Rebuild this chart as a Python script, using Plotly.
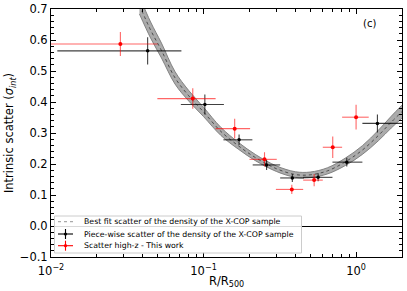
import plotly.graph_objects as go
import numpy as np

# ---- data ----
# best-fit curve
fit_x = [0.038, 0.045, 0.053, 0.065, 0.08, 0.1, 0.13, 0.17, 0.22, 0.3, 0.4, 0.5, 0.65, 0.85, 1.1, 1.4, 1.7, 2.0]
fit_y = [0.712, 0.632, 0.566, 0.478, 0.420, 0.368, 0.305, 0.258, 0.220, 0.185, 0.166, 0.165, 0.178, 0.207, 0.245, 0.292, 0.335, 0.369]
fit_err = [0.028, 0.026, 0.024, 0.020, 0.017, 0.015, 0.013, 0.011, 0.010, 0.009, 0.009, 0.009, 0.010, 0.012, 0.014, 0.017, 0.019, 0.021]

# piece-wise scatter X-COP (black)
xcop_x = [0.043, 0.102, 0.171, 0.259, 0.382, 0.564, 0.869, 1.38]
xcop_xlo = [0.011, 0.071, 0.135, 0.210, 0.318, 0.450, 0.700, 1.10]
xcop_xhi = [0.0716, 0.136, 0.209, 0.318, 0.456, 0.700, 1.10, 2.10]
xcop_y = [0.565, 0.392, 0.278, 0.197, 0.155, 0.157, 0.206, 0.331]
xcop_yerr = [0.044, 0.032, 0.017, 0.016, 0.013, 0.013, 0.014, 0.029]

# high-z scatter (red)
hz_x = [0.0285, 0.085, 0.160, 0.251, 0.379, 0.531, 0.703, 1.0]
hz_xlo = [0.0100, 0.0498, 0.120, 0.200, 0.298, 0.450, 0.605, 0.81]
hz_xhi = [0.050, 0.120, 0.202, 0.302, 0.450, 0.605, 0.81, 1.21]
hz_y = [0.587, 0.411, 0.314, 0.215, 0.118, 0.148, 0.254, 0.351]
hz_yerr = [0.039, 0.033, 0.032, 0.023, 0.015, 0.020, 0.035, 0.040]

ref_x = 1.0  # vertical reference at R500

legend_labels = ["Best fit scatter of the density of the X-COP sample",
                 "Piece-wise scatter of the density of the X-COP sample",
                 "Scatter high-z - This work"]

xtick_vals = [0.01, 0.1, 1]
xtick_text = ["10<sup>−2</sup>", "10<sup>−1</sup>", "10<sup>0</sup>"]
ytick_vals = [-0.1, 0.0, 0.1, 0.2, 0.3, 0.4, 0.5, 0.6, 0.7]
ytick_text = ["−0.1", "0.0", "0.1", "0.2", "0.3", "0.4", "0.5", "0.6", "0.7"]

FONT = "DejaVu Sans"
W, H = 407, 291
ML, MR, MT, MB = 51, 5, 9, 34
PW, PH = W - ML - MR, H - MT - MB


def px(xp):
    return (xp - ML) / PW


def py(yp):
    return (H - MB - yp) / PH


fy = np.array(fit_y)
fe = np.array(fit_err)

fig = go.Figure()

# band
fig.add_trace(go.Scatter(x=fit_x, y=fy + fe, mode="lines", line=dict(color="#7a7a7a", width=0.9, shape="spline"),
                         showlegend=False, hoverinfo="skip"))
fig.add_trace(go.Scatter(x=fit_x, y=fy - fe, mode="lines", line=dict(color="#7a7a7a", width=0.9, shape="spline"),
                         fill="tonexty", fillcolor="#ababab", showlegend=False, hoverinfo="skip"))
fig.add_trace(go.Scatter(x=fit_x, y=fit_y, mode="lines", line=dict(color="#333333", width=0.8, dash="dot", shape="spline"),
                         showlegend=False))

# data
fig.add_trace(go.Scatter(
    x=xcop_x, y=xcop_y, mode="markers",
    marker=dict(color="black", size=3.5),
    error_x=dict(type="data", symmetric=False,
                 array=[h - x for h, x in zip(xcop_xhi, xcop_x)],
                 arrayminus=[x - l for l, x in zip(xcop_xlo, xcop_x)],
                 color="rgba(0,0,0,0.75)", thickness=1.1, width=0),
    error_y=dict(type="data", array=xcop_yerr, color="rgba(0,0,0,0.75)", thickness=1.1, width=0),
    showlegend=False))

fig.add_trace(go.Scatter(
    x=hz_x, y=hz_y, mode="markers",
    marker=dict(color="red", size=4),
    error_x=dict(type="data", symmetric=False,
                 array=[h - x for h, x in zip(hz_xhi, hz_x)],
                 arrayminus=[x - l for l, x in zip(hz_xlo, hz_x)],
                 color="rgba(255,0,0,0.6)", thickness=1.1, width=0),
    error_y=dict(type="data", array=hz_yerr, color="rgba(255,0,0,0.6)", thickness=1.1, width=0),
    showlegend=False))

# reference line at R500
fig.add_shape(type="line", xref="x", yref="paper", x0=np.log10(ref_x), x1=np.log10(ref_x), y0=0, y1=1,
              line=dict(color="black", width=0.8, dash="dash"), layer="above")

# ---- manual legend (matplotlib-like compact box) ----
fig.add_shape(type="rect", xref="paper", yref="paper", x0=px(54.5), x1=px(301.5), y0=py(253), y1=py(216),
              fillcolor="rgba(255,255,255,0.85)", line=dict(color="#cccccc", width=1), layer="above")
rows = [221.7, 234.0, 245.7]
sx0, sx1 = 58, 73
sxc = (sx0 + sx1) / 2
# dotted line symbol
fig.add_shape(type="line", xref="paper", yref="paper", x0=px(sx0), x1=px(sx1 + 3), y0=py(rows[0]), y1=py(rows[0]),
              line=dict(color="#aaaaaa", width=1.2, dash="dot"), layer="above")
for r, col in [(rows[1], "black"), (rows[2], "red")]:
    fig.add_shape(type="line", xref="paper", yref="paper", x0=px(sx0), x1=px(sx1), y0=py(r), y1=py(r),
                  line=dict(color=col, width=1.1), layer="above")
    fig.add_shape(type="line", xref="paper", yref="paper", x0=px(sxc), x1=px(sxc), y0=py(r - 5), y1=py(r + 5),
                  line=dict(color=col, width=1.1), layer="above")
    fig.add_shape(type="circle", xref="paper", yref="paper", x0=px(sxc - 1.6), x1=px(sxc + 1.6),
                  y0=py(r + 1.6), y1=py(r - 1.6), fillcolor=col, line=dict(color=col, width=0), layer="above")
for r, lab in zip(rows, legend_labels):
    fig.add_annotation(x=px(81.5), y=py(r), xref="paper", yref="paper", text=lab, showarrow=False,
                       xanchor="left", yanchor="middle", font=dict(family=FONT, size=7.8, color="black"))

fig.add_annotation(x=px(378), y=py(16), xref="paper", yref="paper", text="(c)", showarrow=False,
                   font=dict(family=FONT, size=10, color="black"))

# x-axis title
fig.add_annotation(x=0.5, y=py(281), xref="paper", yref="paper", text="R/R<sub>500</sub>", showarrow=False,
                   xanchor="center", yanchor="middle", font=dict(family=FONT, size=11.5, color="black"))

fig.update_layout(
    width=W, height=H,
    margin=dict(l=ML, r=MR, t=MT, b=MB),
    paper_bgcolor="white", plot_bgcolor="white",
    font=dict(family=FONT, size=11.5, color="black"),
    showlegend=False,
    xaxis=dict(type="log", range=[-2, np.log10(2.0)],
               tickvals=xtick_vals, ticktext=xtick_text,
               ticks="inside", ticklen=5, tickwidth=1, tickcolor="black",
               showline=True, linecolor="black", linewidth=1, mirror="allticks",
               showgrid=False, zeroline=False, automargin=False, ticklabelstandoff=3,
               minor=dict(ticks="inside", ticklen=3, tickcolor="black", tickwidth=0.8, dtick="D1", showgrid=False)),
    yaxis=dict(range=[-0.1, 0.7], tickvals=ytick_vals, ticktext=ytick_text,
               ticks="inside", ticklen=5, tickwidth=1, tickcolor="black",
               showline=True, linecolor="black", linewidth=1, mirror="allticks",
               showgrid=False, zeroline=True, zerolinecolor="black", zerolinewidth=1, automargin=False,
               minor=dict(ticks="inside", ticklen=3, tickcolor="black", tickwidth=0.8, dtick=0.02, showgrid=False),
               title=dict(text="Intrinsic scatter (<i>σ</i><sub><i>int</i></sub>)", font=dict(family=FONT, size=11.5), standoff=3)),
)

fig.write_html("out.html", config={"displayModeBar": False},
               post_script="document.body.style.margin='0';document.body.style.padding='0';")
